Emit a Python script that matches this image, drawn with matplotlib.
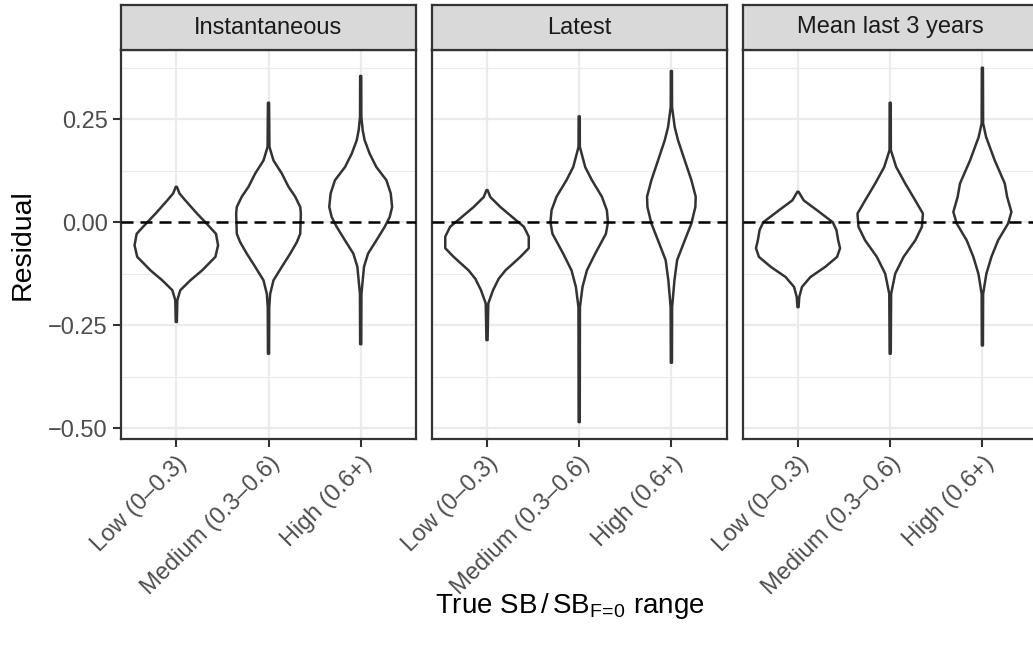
import numpy as np
import matplotlib
matplotlib.use("Agg")
import matplotlib.pyplot as plt

plt.rcParams['font.family'] = ['Liberation Sans', 'DejaVu Sans']
plt.rcParams['mathtext.fontset'] = 'custom'
plt.rcParams['mathtext.rm'] = 'Liberation Sans'
plt.rcParams['mathtext.it'] = 'Liberation Sans'

# facets and categories
facets = ["Instantaneous", "Latest", "Mean last 3 years"]
categories = ["Low (0\u20130.3)", "Medium (0.3\u20130.6)", "High (0.6+)"]
y_ticks = [-0.50, -0.25, 0.00, 0.25]
y_tick_labels = ["\u22120.50", "\u22120.25", "0.00", "0.25"]

# violin outlines: residual level and half width (category units)
inst_low_y = [0.086, 0.070, 0.053, 0.021, 0.000, -0.028, -0.056, -0.084, -0.117, -0.141, -0.165, -0.189, -0.242]
inst_low_w = [0.006, 0.034, 0.098, 0.225, 0.315, 0.430, 0.453, 0.424, 0.279, 0.152, 0.043, 0.011, 0.006]
inst_med_y = [0.290, 0.183, 0.150, 0.118, 0.086, 0.062, 0.037, 0.021, -0.028, -0.048, -0.076, -0.108, -0.141, -0.174, -0.206, -0.319]
inst_med_w = [0.006, 0.010, 0.054, 0.145, 0.217, 0.290, 0.344, 0.351, 0.344, 0.308, 0.236, 0.145, 0.054, 0.018, 0.008, 0.006]
inst_high_y = [0.355, 0.256, 0.223, 0.199, 0.166, 0.134, 0.102, 0.070, 0.037, 0.013, -0.011, -0.044, -0.076, -0.108, -0.141, -0.174, -0.296]
inst_high_w = [0.006, 0.007, 0.022, 0.043, 0.098, 0.170, 0.279, 0.326, 0.341, 0.315, 0.261, 0.170, 0.080, 0.036, 0.022, 0.008, 0.006]

late_low_y = [0.078, 0.061, 0.037, 0.013, -0.011, -0.035, -0.063, -0.084, -0.117, -0.137, -0.165, -0.197, -0.286]
late_low_w = [0.006, 0.036, 0.145, 0.272, 0.400, 0.453, 0.453, 0.362, 0.199, 0.127, 0.065, 0.014, 0.006]
late_med_y = [0.257, 0.183, 0.134, 0.102, 0.062, 0.029, 0.000, -0.028, -0.076, -0.117, -0.157, -0.206, -0.485]
late_med_w = [0.006, 0.007, 0.065, 0.138, 0.246, 0.300, 0.312, 0.290, 0.174, 0.083, 0.036, 0.008, 0.006]
late_high_y = [0.367, 0.280, 0.231, 0.199, 0.150, 0.102, 0.062, 0.037, -0.003, -0.044, -0.092, -0.141, -0.206, -0.341]
late_high_w = [0.006, 0.007, 0.036, 0.072, 0.145, 0.217, 0.264, 0.260, 0.217, 0.145, 0.062, 0.033, 0.008, 0.006]

mean_low_y = [0.074, 0.053, 0.029, 0.000, -0.019, -0.043, -0.063, -0.084, -0.108, -0.133, -0.157, -0.181, -0.206]
mean_low_w = [0.006, 0.062, 0.207, 0.377, 0.417, 0.435, 0.456, 0.424, 0.297, 0.134, 0.043, 0.014, 0.006]
mean_med_y = [0.290, 0.175, 0.134, 0.094, 0.053, 0.021, -0.011, -0.044, -0.084, -0.125, -0.174, -0.319]
mean_med_w = [0.006, 0.007, 0.065, 0.163, 0.272, 0.355, 0.344, 0.272, 0.145, 0.054, 0.010, 0.006]
mean_high_y = [0.375, 0.240, 0.207, 0.150, 0.094, 0.062, 0.025, -0.003, -0.044, -0.084, -0.125, -0.174, -0.299]
mean_high_w = [0.006, 0.008, 0.040, 0.134, 0.243, 0.268, 0.315, 0.279, 0.170, 0.098, 0.043, 0.008, 0.006]

profiles = {
    "Instantaneous": [(inst_low_y, inst_low_w), (inst_med_y, inst_med_w), (inst_high_y, inst_high_w)],
    "Latest": [(late_low_y, late_low_w), (late_med_y, late_med_w), (late_high_y, late_high_w)],
    "Mean last 3 years": [(mean_low_y, mean_low_w), (mean_med_y, mean_med_w), (mean_high_y, mean_high_w)],
}

W, H = 1033, 645
fig = plt.figure(figsize=(W / 100, H / 100), dpi=100)

dark = "#333333"
lefts = [121, 431.7, 742.7]
pw = 295
ptop, pbot = 50, 438.5
strip_top = 5

for k, facet in enumerate(facets):
    ax = fig.add_axes([lefts[k] / W, 1 - pbot / H, pw / W, (pbot - ptop) / H])
    ax.set_xlim(0.4, 3.6)
    ax.set_ylim(-0.5248, 0.418)

    # grid
    for yv in [-0.375, -0.125, 0.125, 0.375]:
        ax.axhline(yv, color="#EBEBEB", lw=0.8, zorder=0)
    for yv in y_ticks:
        ax.axhline(yv, color="#EBEBEB", lw=1.6, zorder=0)
    for i in range(1, 4):
        ax.axvline(i, color="#EBEBEB", lw=1.6, zorder=0)

    # violins
    for i, (yy, ww) in enumerate(profiles[facet]):
        yy = np.array(yy)
        ww = np.array(ww)
        xs = np.concatenate([i + 1 - ww, (i + 1 + ww)[::-1]])
        ys = np.concatenate([yy, yy[::-1]])
        ax.fill(xs, ys, facecolor="white", edgecolor=dark, lw=1.8, joinstyle="round", zorder=2)

    ax.axhline(0, color="black", lw=1.8, dashes=(4.8, 2.8), zorder=3)

    ax.set_xticks([1, 2, 3])
    ax.set_xticklabels(categories, rotation=45, ha="right", va="top",
                       rotation_mode="anchor", fontsize=17, color="#4D4D4D")
    ax.set_yticks(y_ticks)
    if k == 0:
        ax.set_yticklabels(y_tick_labels, fontsize=17, color="#4D4D4D")
        ax.set_ylabel("Residual", fontsize=20.5, labelpad=9)
        ax.tick_params(axis="y", length=5.5, width=1.5, color=dark, pad=4)
    else:
        ax.tick_params(axis="y", length=0, labelleft=False)
    ax.tick_params(axis="x", length=5.5, width=1.5, color=dark, pad=4.5)
    for s in ax.spines.values():
        s.set_color(dark)
        s.set_linewidth(1.6)

    # facet strip
    sax = fig.add_axes([lefts[k] / W, 1 - ptop / H, pw / W, (ptop - strip_top) / H])
    sax.set_facecolor("#D9D9D9")
    sax.set_xticks([])
    sax.set_yticks([])
    for s in sax.spines.values():
        s.set_color(dark)
        s.set_linewidth(1.6)
    sax.text(0.5, 0.5, facet, ha="center", va="center", fontsize=17, color="#1A1A1A",
             transform=sax.transAxes)

fig.text(570 / W, 1 - 606 / H, r"True SB$\,/\,$SB$_{\mathrm{F}\!=\!\mathrm{0}}$ range",
         ha="center", va="center", fontsize=20)

fig.savefig("out.png", dpi=100)
